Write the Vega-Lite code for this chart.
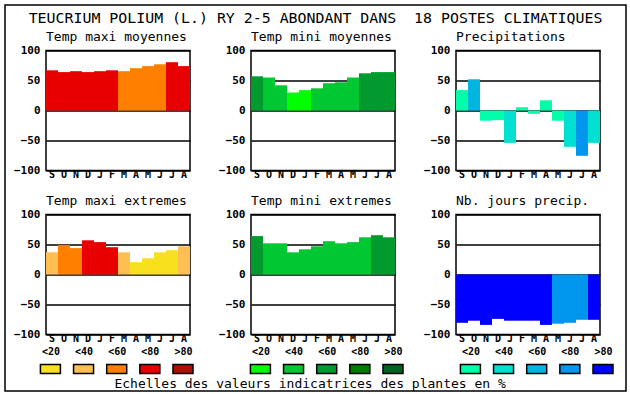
{
  "$schema": "https://vega.github.io/schema/vega-lite/v6.json",
  "padding": {"left": 4, "top": 4, "right": 0, "bottom": 0},
  "background": "white",
  "columns": 1,
  "align": "none",
  "spacing": {"row": -385.5, "column": 0},
  "datasets": {
    "bars": [
      {"p": "p1", "m": "Sep", "v": 67, "c": "T80"},
      {"p": "p1", "m": "Oct", "v": 64, "c": "T80"},
      {"p": "p1", "m": "Nov", "v": 65.5, "c": "T80"},
      {"p": "p1", "m": "Dec", "v": 64, "c": "T80"},
      {"p": "p1", "m": "Jan", "v": 65.5, "c": "T80"},
      {"p": "p1", "m": "Feb", "v": 67, "c": "T80"},
      {"p": "p1", "m": "Mar", "v": 65.5, "c": "T60"},
      {"p": "p1", "m": "Apr", "v": 70.5, "c": "T60"},
      {"p": "p1", "m": "May", "v": 74, "c": "T60"},
      {"p": "p1", "m": "Jun", "v": 77, "c": "T60"},
      {"p": "p1", "m": "Jul", "v": 80.5, "c": "T80"},
      {"p": "p1", "m": "Aug", "v": 74, "c": "T80"},
      {"p": "p2", "m": "Sep", "v": 57, "c": "N60"},
      {"p": "p2", "m": "Oct", "v": 55, "c": "N40"},
      {"p": "p2", "m": "Nov", "v": 42, "c": "N40"},
      {"p": "p2", "m": "Dec", "v": 30, "c": "N20"},
      {"p": "p2", "m": "Jan", "v": 34, "c": "N20"},
      {"p": "p2", "m": "Feb", "v": 37, "c": "N40"},
      {"p": "p2", "m": "Mar", "v": 45.5, "c": "N40"},
      {"p": "p2", "m": "Apr", "v": 47, "c": "N40"},
      {"p": "p2", "m": "May", "v": 55, "c": "N40"},
      {"p": "p2", "m": "Jun", "v": 62, "c": "N60"},
      {"p": "p2", "m": "Jul", "v": 64, "c": "N60"},
      {"p": "p2", "m": "Aug", "v": 64, "c": "N60"},
      {"p": "p3", "m": "Sep", "v": 34, "c": "P20"},
      {"p": "p3", "m": "Oct", "v": 52, "c": "P60"},
      {"p": "p3", "m": "Nov", "v": -17, "c": "P20"},
      {"p": "p3", "m": "Dec", "v": -16, "c": "P20"},
      {"p": "p3", "m": "Jan", "v": -54, "c": "P40"},
      {"p": "p3", "m": "Feb", "v": 5.5, "c": "P20"},
      {"p": "p3", "m": "Mar", "v": -5.5, "c": "P20"},
      {"p": "p3", "m": "Apr", "v": 17, "c": "P20"},
      {"p": "p3", "m": "May", "v": -17, "c": "P20"},
      {"p": "p3", "m": "Jun", "v": -60.5, "c": "P40"},
      {"p": "p3", "m": "Jul", "v": -75.5, "c": "P80"},
      {"p": "p3", "m": "Aug", "v": -54, "c": "P40"},
      {"p": "p4", "m": "Sep", "v": 37, "c": "T40"},
      {"p": "p4", "m": "Oct", "v": 49, "c": "T60"},
      {"p": "p4", "m": "Nov", "v": 44, "c": "T60"},
      {"p": "p4", "m": "Dec", "v": 57, "c": "T80"},
      {"p": "p4", "m": "Jan", "v": 54, "c": "T80"},
      {"p": "p4", "m": "Feb", "v": 45.5, "c": "T80"},
      {"p": "p4", "m": "Mar", "v": 37, "c": "T40"},
      {"p": "p4", "m": "Apr", "v": 20.5, "c": "T20"},
      {"p": "p4", "m": "May", "v": 27, "c": "T20"},
      {"p": "p4", "m": "Jun", "v": 37, "c": "T20"},
      {"p": "p4", "m": "Jul", "v": 40.5, "c": "T20"},
      {"p": "p4", "m": "Aug", "v": 47, "c": "T40"},
      {"p": "p5", "m": "Sep", "v": 64, "c": "N60"},
      {"p": "p5", "m": "Oct", "v": 52, "c": "N40"},
      {"p": "p5", "m": "Nov", "v": 52, "c": "N40"},
      {"p": "p5", "m": "Dec", "v": 37, "c": "N40"},
      {"p": "p5", "m": "Jan", "v": 42, "c": "N40"},
      {"p": "p5", "m": "Feb", "v": 47, "c": "N40"},
      {"p": "p5", "m": "Mar", "v": 55.5, "c": "N40"},
      {"p": "p5", "m": "Apr", "v": 52, "c": "N40"},
      {"p": "p5", "m": "May", "v": 54, "c": "N40"},
      {"p": "p5", "m": "Jun", "v": 62, "c": "N40"},
      {"p": "p5", "m": "Jul", "v": 65.5, "c": "N60"},
      {"p": "p5", "m": "Aug", "v": 62, "c": "N60"},
      {"p": "p6", "m": "Sep", "v": -80.5, "c": "P99"},
      {"p": "p6", "m": "Oct", "v": -77, "c": "P99"},
      {"p": "p6", "m": "Nov", "v": -84, "c": "P99"},
      {"p": "p6", "m": "Dec", "v": -74, "c": "P99"},
      {"p": "p6", "m": "Jan", "v": -77, "c": "P99"},
      {"p": "p6", "m": "Feb", "v": -77, "c": "P99"},
      {"p": "p6", "m": "Mar", "v": -77, "c": "P99"},
      {"p": "p6", "m": "Apr", "v": -84, "c": "P99"},
      {"p": "p6", "m": "May", "v": -82, "c": "P80"},
      {"p": "p6", "m": "Jun", "v": -80.5, "c": "P80"},
      {"p": "p6", "m": "Jul", "v": -75.5, "c": "P80"},
      {"p": "p6", "m": "Aug", "v": -75.5, "c": "P99"}
    ],
    "leg": [
      {"g": "T", "lab": "<20", "c": "T20"},
      {"g": "T", "lab": "<40", "c": "T40"},
      {"g": "T", "lab": "<60", "c": "T60"},
      {"g": "T", "lab": "<80", "c": "T80"},
      {"g": "T", "lab": ">80", "c": "T99"},
      {"g": "N", "lab": "<20", "c": "N20"},
      {"g": "N", "lab": "<40", "c": "N40"},
      {"g": "N", "lab": "<60", "c": "N60"},
      {"g": "N", "lab": "<80", "c": "N80"},
      {"g": "N", "lab": ">80", "c": "N99"},
      {"g": "P", "lab": "<20", "c": "P20"},
      {"g": "P", "lab": "<40", "c": "P40"},
      {"g": "P", "lab": "<60", "c": "P60"},
      {"g": "P", "lab": "<80", "c": "P80"},
      {"g": "P", "lab": ">80", "c": "P99"}
    ],
    "head": [{"t": "TEUCRIUM POLIUM (L.) RY 2-5 ABONDANT DANS\u00a0 18 POSTES CLIMATIQUES"}]
  },
  "concat": [
    {
      "width": 621, "height": 386,
      "data": {"values": []}, "mark": "rect", "encoding": {},
      "view": {"stroke": "black", "strokeWidth": 1.5}
    },
    {
      "spacing": 0,
      "hconcat": [
        {
          "width": 7, "height": 1,
          "data": {"values": []}, "mark": "rect", "encoding": {},
          "view": {"stroke": null}
        },
        {
          "spacing": -1,
          "vconcat": [
            {
              "width": 573, "height": 24,
              "view": {"stroke": null},
              "data": {"name": "head"},
              "mark": {"type": "text", "font": "DejaVu Sans Mono", "fontSize": 14.9, "color": "black", "baseline": "middle", "dx": -17},
              "encoding": {"text": {"field": "t", "type": "nominal"}}
            },
            {
              "spacing": 2,
              "vconcat": [
                {
                  "spacing": 13,
                  "vconcat": [
                    {
                      "spacing": 26,
                      "hconcat": [
                        {
                          "title": "Temp maxi moyennes",
                          "width": 144, "height": 120,
                          "data": {"name": "bars"},
                          "transform": [{"filter": "datum.p == 'p1'"}],
                          "mark": "bar",
                          "encoding": {
                            "x": {"field": "m", "type": "nominal", "sort": ["Sep","Oct","Nov","Dec","Jan","Feb","Mar","Apr","May","Jun","Jul","Aug"], "scale": {"paddingInner": 0, "paddingOuter": 0}, "axis": {"title": null, "labelExpr": "substring(datum.label, 0, 1)"}},
                            "y": {"field": "v", "type": "quantitative", "scale": {"domain": [-100, 100], "nice": false}, "axis": {"title": null, "values": [-100, -50, 0, 50, 100]}},
                            "color": {"field": "c", "type": "nominal", "legend": null, "scale": {"domain": ["T20","T40","T60","T80","T99","N20","N40","N60","N80","N99","P20","P40","P60","P80","P99"], "range": ["#f7e01e","#ffbe52","#ff8000","#e80000","#b00c00","#00ff00","#00c832","#009a2e","#007c00","#006420","#00ffaa","#00dfd0","#00b6e0","#0096ee","#0000ff"]}}
                          }
                        },
                        {
                          "title": "Temp mini moyennes",
                          "width": 144, "height": 120,
                          "data": {"name": "bars"},
                          "transform": [{"filter": "datum.p == 'p2'"}],
                          "mark": "bar",
                          "encoding": {
                            "x": {"field": "m", "type": "nominal", "sort": ["Sep","Oct","Nov","Dec","Jan","Feb","Mar","Apr","May","Jun","Jul","Aug"], "scale": {"paddingInner": 0, "paddingOuter": 0}, "axis": {"title": null, "labelExpr": "substring(datum.label, 0, 1)"}},
                            "y": {"field": "v", "type": "quantitative", "scale": {"domain": [-100, 100], "nice": false}, "axis": {"title": null, "values": [-100, -50, 0, 50, 100]}},
                            "color": {"field": "c", "type": "nominal", "legend": null, "scale": {"domain": ["T20","T40","T60","T80","T99","N20","N40","N60","N80","N99","P20","P40","P60","P80","P99"], "range": ["#f7e01e","#ffbe52","#ff8000","#e80000","#b00c00","#00ff00","#00c832","#009a2e","#007c00","#006420","#00ffaa","#00dfd0","#00b6e0","#0096ee","#0000ff"]}}
                          }
                        },
                        {
                          "title": "Precipitations",
                          "width": 144, "height": 120,
                          "data": {"name": "bars"},
                          "transform": [{"filter": "datum.p == 'p3'"}],
                          "mark": "bar",
                          "encoding": {
                            "x": {"field": "m", "type": "nominal", "sort": ["Sep","Oct","Nov","Dec","Jan","Feb","Mar","Apr","May","Jun","Jul","Aug"], "scale": {"paddingInner": 0, "paddingOuter": 0}, "axis": {"title": null, "labelExpr": "substring(datum.label, 0, 1)"}},
                            "y": {"field": "v", "type": "quantitative", "scale": {"domain": [-100, 100], "nice": false}, "axis": {"title": null, "values": [-100, -50, 0, 50, 100]}},
                            "color": {"field": "c", "type": "nominal", "legend": null, "scale": {"domain": ["T20","T40","T60","T80","T99","N20","N40","N60","N80","N99","P20","P40","P60","P80","P99"], "range": ["#f7e01e","#ffbe52","#ff8000","#e80000","#b00c00","#00ff00","#00c832","#009a2e","#007c00","#006420","#00ffaa","#00dfd0","#00b6e0","#0096ee","#0000ff"]}}
                          }
                        }
                      ]
                    },
                    {
                      "spacing": 26,
                      "hconcat": [
                        {
                          "title": "Temp maxi extremes",
                          "width": 144, "height": 120,
                          "data": {"name": "bars"},
                          "transform": [{"filter": "datum.p == 'p4'"}],
                          "mark": "bar",
                          "encoding": {
                            "x": {"field": "m", "type": "nominal", "sort": ["Sep","Oct","Nov","Dec","Jan","Feb","Mar","Apr","May","Jun","Jul","Aug"], "scale": {"paddingInner": 0, "paddingOuter": 0}, "axis": {"title": null, "labelExpr": "substring(datum.label, 0, 1)"}},
                            "y": {"field": "v", "type": "quantitative", "scale": {"domain": [-100, 100], "nice": false}, "axis": {"title": null, "values": [-100, -50, 0, 50, 100]}},
                            "color": {"field": "c", "type": "nominal", "legend": null, "scale": {"domain": ["T20","T40","T60","T80","T99","N20","N40","N60","N80","N99","P20","P40","P60","P80","P99"], "range": ["#f7e01e","#ffbe52","#ff8000","#e80000","#b00c00","#00ff00","#00c832","#009a2e","#007c00","#006420","#00ffaa","#00dfd0","#00b6e0","#0096ee","#0000ff"]}}
                          }
                        },
                        {
                          "title": "Temp mini extremes",
                          "width": 144, "height": 120,
                          "data": {"name": "bars"},
                          "transform": [{"filter": "datum.p == 'p5'"}],
                          "mark": "bar",
                          "encoding": {
                            "x": {"field": "m", "type": "nominal", "sort": ["Sep","Oct","Nov","Dec","Jan","Feb","Mar","Apr","May","Jun","Jul","Aug"], "scale": {"paddingInner": 0, "paddingOuter": 0}, "axis": {"title": null, "labelExpr": "substring(datum.label, 0, 1)"}},
                            "y": {"field": "v", "type": "quantitative", "scale": {"domain": [-100, 100], "nice": false}, "axis": {"title": null, "values": [-100, -50, 0, 50, 100]}},
                            "color": {"field": "c", "type": "nominal", "legend": null, "scale": {"domain": ["T20","T40","T60","T80","T99","N20","N40","N60","N80","N99","P20","P40","P60","P80","P99"], "range": ["#f7e01e","#ffbe52","#ff8000","#e80000","#b00c00","#00ff00","#00c832","#009a2e","#007c00","#006420","#00ffaa","#00dfd0","#00b6e0","#0096ee","#0000ff"]}}
                          }
                        },
                        {
                          "title": "Nb. jours precip.",
                          "width": 144, "height": 120,
                          "data": {"name": "bars"},
                          "transform": [{"filter": "datum.p == 'p6'"}],
                          "mark": "bar",
                          "encoding": {
                            "x": {"field": "m", "type": "nominal", "sort": ["Sep","Oct","Nov","Dec","Jan","Feb","Mar","Apr","May","Jun","Jul","Aug"], "scale": {"paddingInner": 0, "paddingOuter": 0}, "axis": {"title": null, "labelExpr": "substring(datum.label, 0, 1)"}},
                            "y": {"field": "v", "type": "quantitative", "scale": {"domain": [-100, 100], "nice": false}, "axis": {"title": null, "values": [-100, -50, 0, 50, 100]}},
                            "color": {"field": "c", "type": "nominal", "legend": null, "scale": {"domain": ["T20","T40","T60","T80","T99","N20","N40","N60","N80","N99","P20","P40","P60","P80","P99"], "range": ["#f7e01e","#ffbe52","#ff8000","#e80000","#b00c00","#00ff00","#00c832","#009a2e","#007c00","#006420","#00ffaa","#00dfd0","#00b6e0","#0096ee","#0000ff"]}}
                          }
                        }
                      ]
                    }
                  ]
                },
                {
                  "title": {"text": "Echelles des valeurs indicatrices des plantes en %", "orient": "bottom", "anchor": "start", "frame": "bounds", "dx": 77, "offset": 1},
                  "spacing": 51,
                  "hconcat": [
                    {
                      "width": 141.4, "height": 9,
                      "view": {"stroke": null},
                      "data": {"name": "leg"},
                      "transform": [{"filter": "datum.g == 'T'"}],
                      "mark": {"type": "point", "shape": "M-1,-0.45L1,-0.45L1,0.45L-1,0.45Z", "size": 400, "filled": true, "opacity": 1, "stroke": "black", "strokeWidth": 1.5},
                      "encoding": {
                        "x": {"field": "lab", "type": "nominal", "sort": ["<20","<40","<60","<80",">80"], "scale": {"type": "point", "padding": 0.133}, "axis": {"orient": "top", "title": null, "labelPadding": 8}},
                        "color": {"field": "c", "type": "nominal", "legend": null, "scale": {"domain": ["T20","T40","T60","T80","T99","N20","N40","N60","N80","N99","P20","P40","P60","P80","P99"], "range": ["#f7e01e","#ffbe52","#ff8000","#e80000","#b00c00","#00ff00","#00c832","#009a2e","#007c00","#006420","#00ffaa","#00dfd0","#00b6e0","#0096ee","#0000ff"]}}
                      }
                    },
                    {
                      "width": 141.4, "height": 9,
                      "view": {"stroke": null},
                      "data": {"name": "leg"},
                      "transform": [{"filter": "datum.g == 'N'"}],
                      "mark": {"type": "point", "shape": "M-1,-0.45L1,-0.45L1,0.45L-1,0.45Z", "size": 400, "filled": true, "opacity": 1, "stroke": "black", "strokeWidth": 1.5},
                      "encoding": {
                        "x": {"field": "lab", "type": "nominal", "sort": ["<20","<40","<60","<80",">80"], "scale": {"type": "point", "padding": 0.133}, "axis": {"orient": "top", "title": null, "labelPadding": 8}},
                        "color": {"field": "c", "type": "nominal", "legend": null, "scale": {"domain": ["T20","T40","T60","T80","T99","N20","N40","N60","N80","N99","P20","P40","P60","P80","P99"], "range": ["#f7e01e","#ffbe52","#ff8000","#e80000","#b00c00","#00ff00","#00c832","#009a2e","#007c00","#006420","#00ffaa","#00dfd0","#00b6e0","#0096ee","#0000ff"]}}
                      }
                    },
                    {
                      "width": 141.4, "height": 9,
                      "view": {"stroke": null},
                      "data": {"name": "leg"},
                      "transform": [{"filter": "datum.g == 'P'"}],
                      "mark": {"type": "point", "shape": "M-1,-0.45L1,-0.45L1,0.45L-1,0.45Z", "size": 400, "filled": true, "opacity": 1, "stroke": "black", "strokeWidth": 1.5},
                      "encoding": {
                        "x": {"field": "lab", "type": "nominal", "sort": ["<20","<40","<60","<80",">80"], "scale": {"type": "point", "padding": 0.133}, "axis": {"orient": "top", "title": null, "labelPadding": 8}},
                        "color": {"field": "c", "type": "nominal", "legend": null, "scale": {"domain": ["T20","T40","T60","T80","T99","N20","N40","N60","N80","N99","P20","P40","P60","P80","P99"], "range": ["#f7e01e","#ffbe52","#ff8000","#e80000","#b00c00","#00ff00","#00c832","#009a2e","#007c00","#006420","#00ffaa","#00dfd0","#00b6e0","#0096ee","#0000ff"]}}
                      }
                    }
                  ]
                }
              ]
            }
          ]
        }
      ]
    }
  ],
  "config": {
    "font": "DejaVu Sans Mono",
    "view": {"stroke": "black", "strokeWidth": 1.5},
    "title": {"font": "DejaVu Sans Mono", "fontSize": 13, "fontWeight": "normal", "color": "black", "anchor": "start", "frame": "group", "offset": 1},
    "axisY": {"grid": true, "gridColor": "black", "gridWidth": 1.5, "gridOpacity": 1, "domain": false, "ticks": false, "labelPadding": 6, "labelFont": "DejaVu Sans Mono", "labelFontWeight": "bold", "labelFontSize": 11, "labelColor": "black", "zindex": 1},
    "axisX": {"grid": false, "domain": false, "ticks": false, "labelAngle": 0, "labelPadding": -1, "labelFont": "DejaVu Sans Mono", "labelFontWeight": "bold", "labelFontSize": 10, "labelColor": "black"}
  }
}
